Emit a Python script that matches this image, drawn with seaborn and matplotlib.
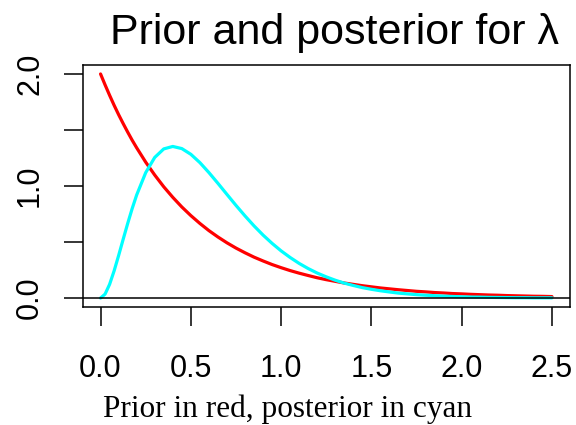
import matplotlib
matplotlib.use("Agg")
import matplotlib.pyplot as plt
import seaborn as sns
import pandas as pd

# lambda grid and the two densities
lam = [0.000, 0.025, 0.050, 0.075, 0.100, 0.125, 0.150, 0.175, 0.20, 0.25,
       0.30, 0.35, 0.40, 0.45,
       0.50, 0.55, 0.60, 0.65, 0.70, 0.75, 0.80, 0.85, 0.90, 0.95,
       1.00, 1.05, 1.10, 1.15, 1.20, 1.25, 1.30, 1.35, 1.40, 1.45,
       1.50, 1.55, 1.60, 1.65, 1.70, 1.75, 1.80, 1.85, 1.90, 1.95,
       2.00, 2.05, 2.10, 2.15, 2.20, 2.25, 2.30, 2.35, 2.40, 2.45, 2.50]
prior = [2.000, 1.903, 1.810, 1.721, 1.637, 1.558, 1.482, 1.409, 1.341, 1.213,
         1.098, 0.993, 0.899, 0.813,
         0.736, 0.666, 0.602, 0.545, 0.493, 0.446, 0.404, 0.365, 0.331, 0.299,
         0.271, 0.245, 0.222, 0.201, 0.181, 0.164, 0.149, 0.134, 0.122, 0.110,
         0.100, 0.090, 0.082, 0.074, 0.067, 0.060, 0.055, 0.049, 0.045, 0.040,
         0.037, 0.033, 0.030, 0.027, 0.025, 0.022, 0.020, 0.018, 0.016, 0.015, 0.013]
posterior = [0.000, 0.035, 0.122, 0.242, 0.379, 0.523, 0.664, 0.798, 0.920, 1.119,
             1.255, 1.331, 1.353, 1.334,
             1.283, 1.209, 1.120, 1.024, 0.925, 0.827, 0.733, 0.644, 0.562, 0.488,
             0.421, 0.362, 0.309, 0.263, 0.223, 0.189, 0.159, 0.133, 0.112, 0.093,
             0.078, 0.065, 0.054, 0.044, 0.037, 0.030, 0.025, 0.021, 0.017, 0.014,
             0.011, 0.009, 0.008, 0.006, 0.005, 0.004, 0.003, 0.003, 0.002, 0.002, 0.002]

xticks = [0.0, 0.5, 1.0, 1.5, 2.0, 2.5]
xticklabels = ["0.0", "0.5", "1.0", "1.5", "2.0", "2.5"]
yticks = [0.0, 0.5, 1.0, 1.5, 2.0]
yticklabels = ["0.0", "", "1.0", "", "2.0"]

df = pd.DataFrame({"lam": lam, "prior": prior, "posterior": posterior})

sns.set_style("white")
plt.rcParams["font.family"] = ["Liberation Sans", "DejaVu Sans"]
plt.rcParams["text.color"] = "black"
plt.rcParams["lines.solid_joinstyle"] = "round"

W, H = 576, 425
fig = plt.figure(figsize=(W / 100, H / 100), dpi=100)
ax = fig.add_axes([82.5 / W, 1 - 307 / H, (570 - 82.5) / W, (307 - 65) / H])

sns.lineplot(data=df, x="lam", y="prior", color="red", lw=2.3, ax=ax)
sns.lineplot(data=df, x="lam", y="posterior", color="cyan", lw=2.3, ax=ax)
ax.axhline(0, color="black", lw=1.1)

ax.set_xlim(-0.1, 2.6)
ax.set_ylim(-0.08, 2.08)
ax.set_xticks(xticks)
ax.set_xticklabels(xticklabels)
ax.set_yticks(yticks)
ax.set_yticklabels(yticklabels, rotation=90, va="center")
ax.tick_params(axis="both", direction="out", length=14, width=1.1, colors="black",
               labelsize=22, bottom=True, left=True)
ax.tick_params(axis="x", pad=20)
ax.tick_params(axis="y", pad=13)
for s in ax.spines.values():
    s.set_color("black")
    s.set_linewidth(1.1)
ax.set_xlabel("")
ax.set_ylabel("")

fig.text(335 / W, 1 - 33 / H, "Prior and posterior for λ", ha="center", va="center",
         fontsize=31, color="black")
fig.text(288 / W, 1 - 417 / H, "Prior in red, posterior in cyan", ha="center",
         va="baseline", fontsize=22.5, color="black",
         family=["Liberation Serif", "DejaVu Serif"])

fig.savefig("out.png", dpi=100)
